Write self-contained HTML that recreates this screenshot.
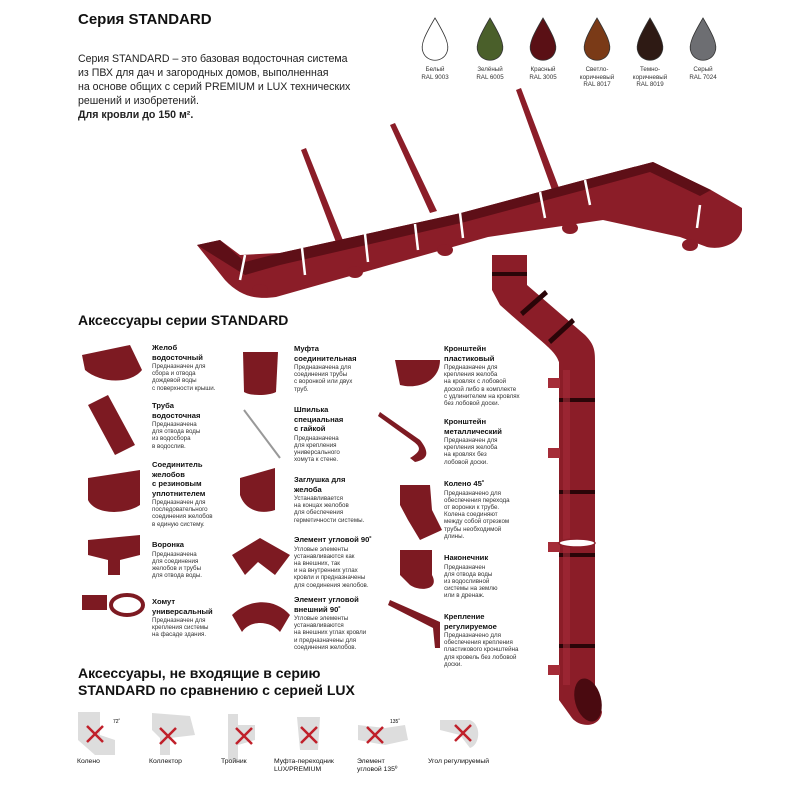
<!DOCTYPE html>
<html><head><meta charset="utf-8"><style>
body{margin:0;width:798px;height:800px;background:#fff;position:relative;overflow:hidden;font-family:"Liberation Sans","DejaVu Sans",sans-serif;color:#111}
.a{position:absolute}
.t{font-weight:bold;font-size:7.6px;line-height:9.5px}
.d{font-size:6.2px;line-height:7.2px;color:#333;margin-top:1px}
.dl{font-size:6.2px;line-height:7.5px;color:#333;text-align:center}
</style></head><body>
<div class="a" style="left:78px;top:11px;font-size:15px;font-weight:bold">Серия STANDARD</div>
<div class="a" style="left:78px;top:52px;font-size:10.6px;line-height:14px;color:#222">Серия STANDARD – это базовая водосточная система<br>из ПВХ для дач и загородных домов, выполненная<br>на основе общих с серий PREMIUM и LUX технических<br>решений и изобретений.<br><b>Для кровли до 150 м².</b></div>

<svg class="a" style="left:0;top:0" width="798" height="800">
<g stroke="#333" stroke-width="0.8">
<path d="M435 18 C425 35 420 45 423 52 C427 63 443 63 447 52 C450 45 445 35 435 18Z" fill="#fff"/>
<path d="M490 18 C480 35 475 45 478 52 C482 63 498 63 502 52 C505 45 500 35 490 18Z" fill="#4a5f2a"/>
<path d="M543 18 C533 35 528 45 531 52 C535 63 551 63 555 52 C558 45 553 35 543 18Z" fill="#5a1015"/>
<path d="M597 18 C587 35 582 45 585 52 C589 63 605 63 609 52 C612 45 607 35 597 18Z" fill="#7a3a17"/>
<path d="M650 18 C640 35 635 45 638 52 C642 63 658 63 662 52 C665 45 660 35 650 18Z" fill="#2e1a14"/>
<path d="M703 18 C693 35 688 45 691 52 C695 63 711 63 715 52 C718 45 713 35 703 18Z" fill="#6d6e72"/>
</g>
<!-- downpipe -->
<g fill="#8b1d28">
<path d="M492 255 L527 255 L527 285 L585 335 C595 345 595 352 595 362 L559 362 C555 350 545 345 500 305 L492 290Z"/>
<rect x="559" y="360" width="36" height="330"/>
<path d="M559 690 L595 690 L602 712 C600 728 580 728 572 718 L559 700Z"/>
</g>
<ellipse cx="588" cy="700" rx="13" ry="22" fill="#4a0a10" transform="rotate(-15 588 700)"/>
<g fill="#2a0508">
<rect x="559" y="398" width="36" height="4"/><rect x="559" y="490" width="36" height="4"/><rect x="559" y="553" width="36" height="4"/><rect x="559" y="644" width="36" height="4"/>
<path d="M492 272 L527 272 L527 276 L492 276Z"/>
<path d="M520 312 L545 290 L548 294 L523 316Z"/><path d="M548 340 L572 318 L575 322 L551 344Z"/>
</g>
<g fill="#a52c38">
<rect x="548" y="378" width="12" height="10"/><rect x="548" y="448" width="12" height="10"/><rect x="548" y="542" width="12" height="10"/><rect x="548" y="665" width="12" height="10"/>
<rect x="563" y="370" width="7" height="315" opacity="0.6"/>
</g>
<ellipse cx="577" cy="543" rx="18" ry="4" fill="#fff" stroke="#8b1d28" stroke-width="1.5"/>
<!-- hangers -->
<g fill="#8b1d28">
<path d="M301 150 l5-2 l38 95 l-7 2Z M390 125 l5-2 l42 88 l-7 2Z M516 90 l5-2 l38 100 l-7 2Z"/>
</g>
<!-- gutter -->
<path d="M197 245 L220 240 L240 255 L280 253 L461 213 L584 180 L653 162 L711 190 L742 208 L742 230 C738 245 720 250 707 247 L680 237 L603 220 L488 237 L276 297 C255 300 240 296 225 280 Z" fill="#8b1d28"/>
<path d="M197 245 L220 240 L245 262 L280 253 L461 213 L584 180 L653 162 L711 190 L700 196 L650 172 L584 190 L461 223 L280 265 L245 275Z" fill="#5e0f17"/>
<g stroke="#fff" stroke-width="2.5">
<line x1="245" y1="255" x2="240" y2="280"/><line x1="302" y1="248" x2="305" y2="275"/><line x1="365" y1="234" x2="368" y2="262"/><line x1="415" y1="224" x2="418" y2="250"/><line x1="460" y1="213" x2="463" y2="238"/><line x1="540" y1="192" x2="545" y2="218"/><line x1="585" y1="180" x2="590" y2="205"/><line x1="700" y1="205" x2="697" y2="228"/>
</g>
<g fill="#8b1d28"><ellipse cx="260" cy="290" rx="8" ry="6"/><ellipse cx="355" cy="272" rx="8" ry="6"/><ellipse cx="445" cy="250" rx="8" ry="6"/><ellipse cx="570" cy="228" rx="8" ry="6"/><ellipse cx="690" cy="245" rx="8" ry="6"/></g>
<!-- accessory icons -->
<g fill="#7d1a22">
<path d="M82 355 L130 345 L142 370 C130 385 100 383 85 370Z"/>
<path d="M88 405 L108 395 L135 445 L115 455Z"/>
<path d="M88 478 L140 470 L140 505 C125 515 95 515 88 500Z"/>
<path d="M88 540 L140 535 L140 555 L120 560 L120 575 L108 575 L108 560 L88 555Z"/>
<rect x="82" y="595" width="25" height="15"/>
<ellipse cx="127" cy="605" rx="16" ry="10" fill="none" stroke="#7d1a22" stroke-width="4"/>
<path d="M243 352 L278 352 L276 392 C268 396 250 396 244 392Z"/>
<path d="M240 478 L275 468 L275 510 C260 515 245 510 240 495Z"/>
<path d="M232 555 L260 538 L290 555 L275 575 L258 562 L245 575Z"/>
<path d="M232 615 C250 598 275 598 290 615 L280 632 C270 620 250 620 242 632Z"/>
<path d="M395 360 L440 360 C440 380 420 390 400 385Z"/>
<path d="M380 412 L420 440 C432 455 425 460 415 462 L410 458 C420 452 422 448 414 442 L378 416Z"/>
<path d="M400 485 L430 485 L432 510 L442 530 L420 540 L408 520 L400 505Z"/>
<path d="M400 550 L432 550 L432 575 C440 590 420 592 410 585 L400 575Z"/>
<path d="M390 600 L440 622 L440 648 L435 648 L433 628 L388 605Z"/>
</g>
<line x1="244" y1="410" x2="280" y2="458" stroke="#999" stroke-width="2"/>
<!-- excluded items -->
<g fill="#ddd">
<path d="M78 712 L100 712 L100 735 L115 740 L115 755 L95 755 L78 740Z"/>
<path d="M152 713 L190 716 L195 735 L170 738 L170 755 L160 755 L160 738 L152 730Z"/>
<path d="M228 714 L238 714 L238 725 L255 725 L255 740 L238 745 L238 760 L228 760Z"/>
<path d="M297 717 L320 717 L318 750 L300 750Z"/>
<path d="M358 725 L385 728 L405 725 L408 740 L385 745 L358 740Z"/>
<path d="M440 720 L470 720 C482 725 480 745 470 748 L460 735 L440 730Z"/>
</g>
<g stroke="#c0202a" stroke-width="2.5">
<path d="M87 726 L103 742 M103 726 L87 742 M160 728 L176 744 M176 728 L160 744 M236 728 L252 744 M252 728 L236 744 M301 727 L317 743 M317 727 L301 743 M367 727 L383 743 M383 727 L367 743 M455 725 L471 741 M471 725 L455 741"/>
</g>
<text x="113" y="723" font-size="5" font-family="Liberation Sans">72˚</text>
<text x="390" y="723" font-size="5" font-family="Liberation Sans">135˚</text>
</svg>

<div class="a" style="left:423px;top:66px;width:600px;font-size:6.5px;line-height:7.5px">
<div class="a dl" style="left:-8px;width:40px">Белый<br>RAL 9003</div>
<div class="a dl" style="left:47px;width:40px">Зелёный<br>RAL 6005</div>
<div class="a dl" style="left:100px;width:40px">Красный<br>RAL 3005</div>
<div class="a dl" style="left:154px;width:40px">Светло-<br>коричневый<br>RAL 8017</div>
<div class="a dl" style="left:207px;width:40px">Темно-<br>коричневый<br>RAL 8019</div>
<div class="a dl" style="left:260px;width:40px">Серый<br>RAL 7024</div>
</div>

<div class="a" style="left:78px;top:312px;font-size:14px;font-weight:bold">Аксессуары серии STANDARD</div>

<div class="a" style="left:152px;top:343px"><div class="t">Желоб<br>водосточный</div><div class="d">Предназначен для<br>сбора и отвода<br>дождевой воды<br>с поверхности крыши.</div></div>
<div class="a" style="left:152px;top:401px"><div class="t">Труба<br>водосточная</div><div class="d">Предназначена<br>для отвода воды<br>из водосбора<br>в водослив.</div></div>
<div class="a" style="left:152px;top:460px"><div class="t">Соединитель<br>желобов<br>с резиновым<br>уплотнителем</div><div class="d">Предназначен для<br>последовательного<br>соединения желобов<br>в единую систему.</div></div>
<div class="a" style="left:152px;top:540px"><div class="t">Воронка</div><div class="d">Предназначена<br>для соединения<br>желобов и трубы<br>для отвода воды.</div></div>
<div class="a" style="left:152px;top:597px"><div class="t">Хомут<br>универсальный</div><div class="d">Предназначен для<br>крепления системы<br>на фасаде здания.</div></div>

<div class="a" style="left:294px;top:344px"><div class="t">Муфта<br>соединительная</div><div class="d">Предназначена для<br>соединения трубы<br>с воронкой или двух<br>труб.</div></div>
<div class="a" style="left:294px;top:405px"><div class="t">Шпилька<br>специальная<br>с гайкой</div><div class="d">Предназначена<br>для крепления<br>универсального<br>хомута к стене.</div></div>
<div class="a" style="left:294px;top:475px"><div class="t">Заглушка для<br>желоба</div><div class="d">Устанавливается<br>на концах желобов<br>для обеспечения<br>герметичности системы.</div></div>
<div class="a" style="left:294px;top:535px"><div class="t">Элемент угловой 90˚</div><div class="d">Угловые элементы<br>устанавливаются как<br>на внешних, так<br>и на внутренних углах<br>кровли и предназначены<br>для соединения желобов.</div></div>
<div class="a" style="left:294px;top:595px"><div class="t">Элемент угловой<br>внешний 90˚</div><div class="d">Угловые элементы<br>устанавливаются<br>на внешних углах кровли<br>и предназначены для<br>соединения желобов.</div></div>

<div class="a" style="left:444px;top:344px"><div class="t">Кронштейн<br>пластиковый</div><div class="d">Предназначен для<br>крепления желоба<br>на кровлях с лобовой<br>доской либо в комплекте<br>с удлинителем на кровлях<br>без лобовой доски.</div></div>
<div class="a" style="left:444px;top:417px"><div class="t">Кронштейн<br>металлический</div><div class="d">Предназначен для<br>крепления желоба<br>на кровлях без<br>лобовой доски.</div></div>
<div class="a" style="left:444px;top:479px"><div class="t">Колено 45˚</div><div class="d">Предназначено для<br>обеспечения перехода<br>от воронки к трубе.<br>Колена соединяют<br>между собой отрезком<br>трубы необходимой<br>длины.</div></div>
<div class="a" style="left:444px;top:553px"><div class="t">Наконечник</div><div class="d">Предназначен<br>для отвода воды<br>из водосливной<br>системы на землю<br>или в дренаж.</div></div>
<div class="a" style="left:444px;top:612px"><div class="t">Крепление<br>регулируемое</div><div class="d">Предназначено для<br>обеспечения крепления<br>пластикового кронштейна<br>для кровель без лобовой<br>доски.</div></div>

<div class="a" style="left:78px;top:665px;font-size:14px;line-height:17px;font-weight:bold">Аксессуары, не входящие в серию<br>STANDARD по сравнению с серией LUX</div>
<div class="a" style="left:77px;top:758px;font-size:6.8px;line-height:8px">Колено</div>
<div class="a" style="left:149px;top:758px;font-size:6.8px;line-height:8px">Коллектор</div>
<div class="a" style="left:221px;top:758px;font-size:6.8px;line-height:8px">Тройник</div>
<div class="a" style="left:274px;top:758px;font-size:6.8px;line-height:8px">Муфта-переходник<br>LUX/PREMIUM</div>
<div class="a" style="left:357px;top:758px;font-size:6.8px;line-height:8px">Элемент<br>угловой 135º</div>
<div class="a" style="left:428px;top:758px;font-size:6.8px;line-height:8px">Угол регулируемый</div>
</body></html>
